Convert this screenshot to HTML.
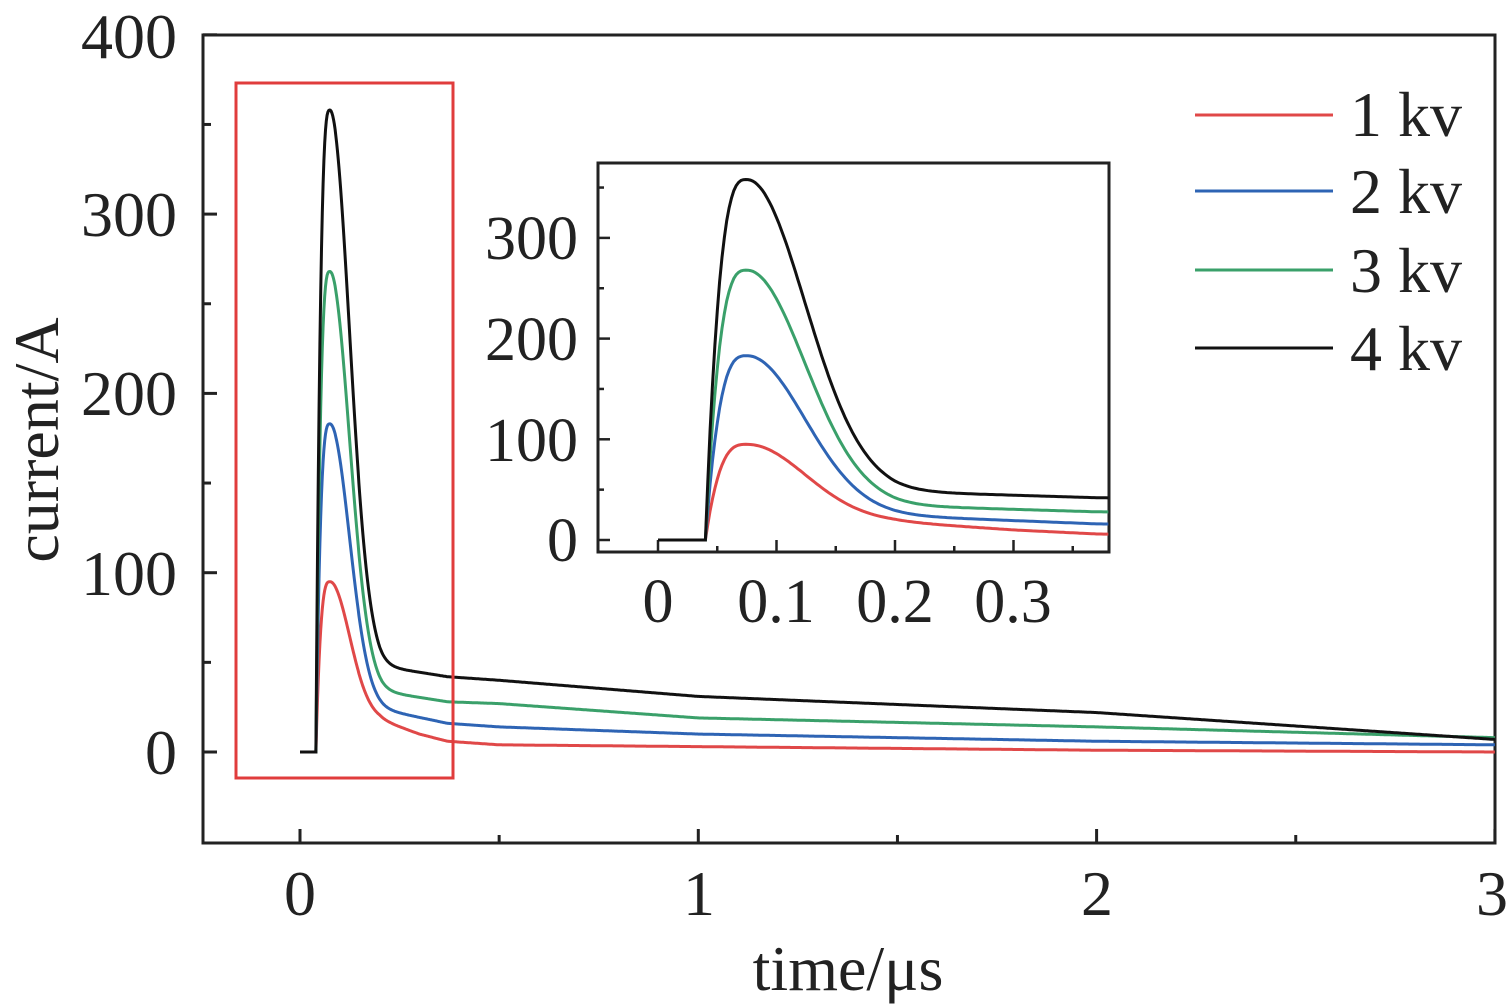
<!DOCTYPE html>
<html><head><meta charset="utf-8"><style>
html,body{margin:0;padding:0;background:#fff;}
svg{display:block;font-family:"Liberation Serif",serif;}
</style></head><body>
<svg id="s" width="1512" height="1008" viewBox="0 0 1512 1008" xmlns="http://www.w3.org/2000/svg">
<rect x="203" y="35" width="1292" height="808" fill="none" stroke="#222" stroke-width="3"/>
<g id="ticks" stroke="#222" stroke-width="3"></g>
<g font-size="64" fill="#222" text-anchor="end">
<text x="177" y="774">0</text><text x="177" y="595">100</text><text x="177" y="415">200</text><text x="177" y="236">300</text><text x="177" y="58">400</text>
</g>
<g font-size="64" fill="#222" text-anchor="middle">
<text x="300" y="915">0</text><text x="699" y="915">1</text><text x="1097" y="915">2</text><text x="1492" y="915">3</text>
<text x="848" y="990">time/μs</text>
</g>
<text font-size="64" fill="#222" text-anchor="middle" transform="translate(58,440) rotate(-90)">current/A</text>
<g id="main" fill="none" stroke-width="3"></g>
<rect x="236" y="83" width="217" height="695" fill="none" stroke="#e03c3c" stroke-width="3"/>
<rect x="598" y="163" width="511" height="389" fill="#fff" stroke="#222" stroke-width="3"/>
<g id="iticks" stroke="#222" stroke-width="2.5"></g>
<g id="inset" fill="none" stroke-width="3"></g>
<g font-size="62" fill="#222" text-anchor="end">
<text x="578" y="561">0</text><text x="578" y="461">100</text><text x="578" y="360">200</text><text x="578" y="259">300</text>
</g>
<g font-size="62" fill="#222" text-anchor="middle">
<text x="658" y="622">0</text><text x="776" y="622">0.1</text><text x="895" y="622">0.2</text><text x="1013" y="622">0.3</text>
</g>
<g stroke-width="3">
<line x1="1195" y1="115" x2="1333" y2="115" stroke="#e04848"/>
<line x1="1195" y1="191" x2="1333" y2="191" stroke="#2e64b4"/>
<line x1="1195" y1="270" x2="1333" y2="270" stroke="#3aa06a"/>
<line x1="1195" y1="348" x2="1333" y2="348" stroke="#111"/>
</g>
<g font-size="64" fill="#222">
<text x="1350" y="136">1 kv</text><text x="1350" y="213">2 kv</text><text x="1350" y="292">3 kv</text><text x="1350" y="370">4 kv</text>
</g>
</svg>
<script>
var NS="http://www.w3.org/2000/svg";
function L(g,x1,y1,x2,y2){var l=document.createElementNS(NS,"line");l.setAttribute("x1",x1);l.setAttribute("y1",y1);l.setAttribute("x2",x2);l.setAttribute("y2",y2);document.getElementById(g).appendChild(l);}
for(var v=0;v<=400;v+=50){var y=752-v*1.793;L("ticks",203,y,v%100?211:217,y);}
for(var v=0;v<=3;v+=0.5){var x=300+v*398.3;L("ticks",x,843,x,v%1?835:829);}
for(var v=0;v<=350;v+=50){var y=540-v*1.007;L("iticks",598,y,v%100?604:610,y);}
for(var v=0;v<=0.35;v+=0.05){var x=658+v*1185;L("iticks",x,552,x,Math.round(v*100)%10?546:540);}
var S=[
{c:"#e04848",P:95,tail:[[0.2,18],[0.3,10],[0.37,6],[0.5,4],[1,3],[2,1],[3,0]]},
{c:"#2e64b4",P:183,tail:[[0.2,24],[0.37,16],[0.5,14],[1,10],[2,6],[3,4]]},
{c:"#3aa06a",P:268,tail:[[0.2,34],[0.37,28],[0.5,27],[1,19],[2,14],[3,8]]},
{c:"#111",P:358,tail:[[0.2,48],[0.37,42],[0.5,40],[1,31],[2,22],[3,7]]}];
function tl(s,t){var a=s.tail;if(t<=a[0][0])return a[0][1]+(a[0][1]*0.3)*(a[0][0]-t)/0.13;for(var i=1;i<a.length;i++){if(t<=a[i][0]){var f=(t-a[i-1][0])/(a[i][0]-a[i-1][0]);return a[i-1][1]+f*(a[i][1]-a[i-1][1]);}}return a[a.length-1][1];}
function f(s,t){if(t<0.04)return 0;var tp=0.075;
 if(t<tp){var u=(t-0.04)/(tp-0.04);return s.P*(1-Math.pow(1-u,3));}
 var T=tl(s,t);var e=Math.exp(-Math.pow((t-tp)/0.068,2));return T+(s.P-T)*e;}
function path(g,s,t0,t1,X,Y){var d="";for(var t=t0;t<=t1+1e-9;t+=0.002){d+=(d?"L":"M")+X(t).toFixed(1)+","+Y(f(s,t)).toFixed(1);}
 var p=document.createElementNS(NS,"path");p.setAttribute("d",d);p.setAttribute("stroke",s.c);document.getElementById(g).appendChild(p);}
S.forEach(function(s){
 path("main",s,0,3,function(t){return 300+t*398.3},function(v){return 752-v*1.793});
 path("inset",s,0,0.38,function(t){return 658+t*1185},function(v){return 540-v*1.007});
});
</script>
</body></html>
